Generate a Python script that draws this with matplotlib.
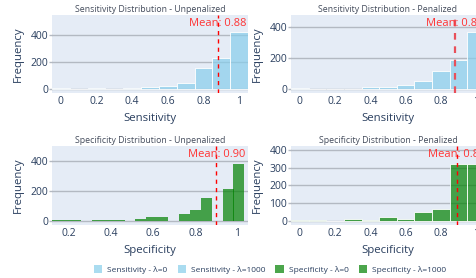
import numpy as np
import matplotlib
matplotlib.use("Agg")
from matplotlib import pyplot as plt
from matplotlib.colors import to_rgba
from matplotlib.patches import Patch

plt.rcParams['font.family'] = ['Open Sans', 'DejaVu Sans']

# histogram data
bin_centers = [0.0, 0.1, 0.2, 0.3, 0.4, 0.5, 0.6, 0.7, 0.8, 0.9, 1.0]
sens_unpen = [10, 3, 10, 3, 10, 17, 25, 47, 158, 232, 425]
sens_pen = [11, 1, 4, 4, 17, 17, 30, 52, 116, 191, 372]
spec_pen = [5, 5, 1, 11, 5, 22, 11, 50, 65, 321, 321]

spec_unpen_left = [0.103, 0.155, 0.206, 0.258, 0.31, 0.361, 0.413, 0.464, 0.516,
                   0.568, 0.62, 0.671, 0.723, 0.775, 0.827, 0.878, 0.93, 0.981]
spec_unpen = [3, 3, 3, 0, 3, 5, 3, 0, 9, 22, 22, 0, 42, 69, 149, 0, 215, 382]

means = [0.88, 0.88, 0.90, 0.89]
titles = ['Sensitivity Distribution - Unpenalized', 'Sensitivity Distribution - Penalized',
          'Specificity Distribution - Unpenalized', 'Specificity Distribution - Penalized']
xlabels = ['Sensitivity', 'Sensitivity', 'Specificity', 'Specificity']
legend_labels = ['Sensitivity - λ=0', 'Sensitivity - λ=1000',
                 'Specificity - λ=0', 'Specificity - λ=1000']

W, H = 477, 278
fig = plt.figure(figsize=(W / 100, H / 100), dpi=100)
fig.patch.set_facecolor('white')

def box(x0, x1, y0, y1):
    # pixel box -> figure fraction
    return [x0 / W, 1 - y1 / H, (x1 - x0) / W, (y1 - y0) / H]

boxes = [box(52, 248, 15, 93), box(291, 485, 15, 93),
         box(52, 248, 146, 225), box(291, 485, 146, 225)]
ylims = [(-27, 548), (-24, 479), (-29, 500), (-24, 422)]
xlims = [(-0.05, 1.05), (-0.05, 1.05), (0.12, 1.05), (-0.05, 1.05)]
yticks = [[0, 200, 400], [0, 200, 400], [0, 200, 400], [0, 100, 200, 300, 400]]
xticks = [[0, 0.2, 0.4, 0.6, 0.8, 1], [0, 0.2, 0.4, 0.6, 0.8, 1],
          [0.2, 0.4, 0.6, 0.8, 1], [0, 0.2, 0.4, 0.6, 0.8, 1]]

blue = to_rgba('skyblue', 0.7)
green = to_rgba('green', 0.7)
txt = '#2a3f5f'
gridc = '#b3b9c2'

axes = [fig.add_axes(b) for b in boxes]
for i, ax in enumerate(axes):
    ax.set_facecolor('#e5ecf6')
    ax.set_axisbelow(True)
    ax.grid(axis='y', color=gridc, lw=1)
    for s in ax.spines.values():
        s.set_visible(False)

axes[0].bar(bin_centers, sens_unpen, width=0.1, color=blue, edgecolor='white', linewidth=0.6)
axes[1].bar(bin_centers, sens_pen, width=0.1, color=blue, edgecolor='white', linewidth=0.6)
axes[2].bar(spec_unpen_left, spec_unpen, width=0.0516, align='edge', color=green, linewidth=0)
axes[3].bar(bin_centers, spec_pen, width=0.1, color=green, edgecolor='white', linewidth=0.6)

for i, ax in enumerate(axes):
    ax.set_xlim(*xlims[i])
    ax.set_ylim(*ylims[i])
    ax.set_yticks(yticks[i])
    ax.set_xticks(xticks[i])
    ax.set_xticklabels([f'{t:g}' for t in xticks[i]])
    ax.tick_params(axis='y', length=2.2, width=1, color=gridc, pad=0.5, labelsize=7.5, labelcolor=txt)
    ax.tick_params(axis='x', length=0, pad=2.5, labelsize=7.5, labelcolor=txt)
    ax.set_title(titles[i], fontsize=6.3, color='#444c5c', pad=2.5)
    ax.set_xlabel(xlabels[i], fontsize=8.2, color=txt, labelpad=4)
    ax.set_ylabel('Frequency', fontsize=8.2, color=txt, labelpad=5)
    lw = 1.6 if i == 1 else 1
    lc = '#e8505a' if i == 1 else 'red'
    ax.axvline(means[i], color=lc, lw=lw, ls=(0, (3, 3)))
    ax.annotate(f'Mean: {means[i]:.2f}', xy=(means[i], 1), xycoords=('data', 'axes fraction'),
                xytext=(0, -2), textcoords='offset points', ha='center', va='top',
                fontsize=8, color='#ff3333', annotation_clip=False)

handles = [Patch(facecolor=blue), Patch(facecolor=blue), Patch(facecolor=green), Patch(facecolor=green)]
fig.legend(handles, legend_labels, loc='center', bbox_to_anchor=(0.566, 0.03), ncol=4,
           frameon=False, fontsize=6, labelcolor=txt, handlelength=1.0, handleheight=1.0,
           handletextpad=0.6, columnspacing=1.2)

fig.savefig('out.png', dpi=100)
